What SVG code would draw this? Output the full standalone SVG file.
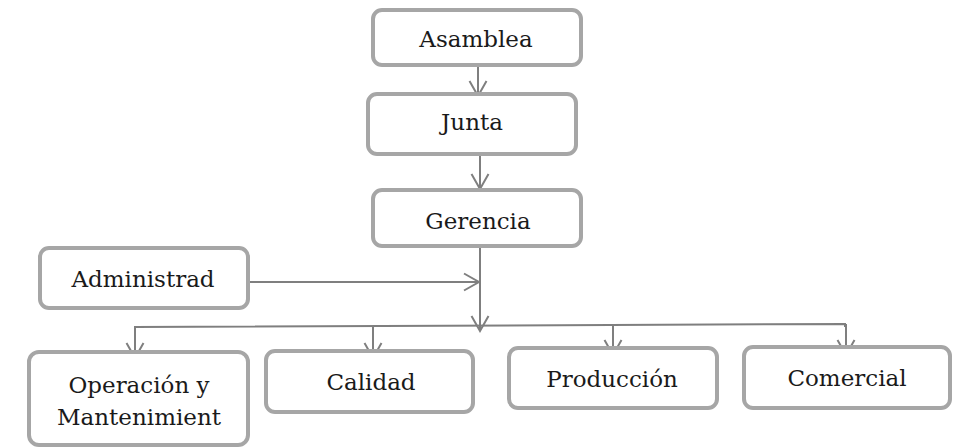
<svg xmlns="http://www.w3.org/2000/svg" width="953" height="448" viewBox="0 0 953 448">
<style>
.box{fill:#fff;stroke:#a6a6a6;stroke-width:4}
.lbl{font-family:"DejaVu Serif","Liberation Serif",serif;font-size:23px;fill:#1a1a1a;text-anchor:middle}
.ln{fill:none;stroke:#7f7f7f;stroke-width:2}
</style>
<defs>
<marker id="ah" viewBox="0 0 20 20" refX="18" refY="10" markerWidth="20" markerHeight="20" markerUnits="userSpaceOnUse" orient="auto">
<path d="M3 1.5 L18 10 L3 18.5" fill="none" stroke="#7f7f7f" stroke-width="2"/>
</marker>
</defs>
<rect width="953" height="448" fill="#fff"/>
<g id="connectors">
<line class="ln" x1="478" y1="65" x2="478" y2="96" marker-end="url(#ah)"/>
<line class="ln" x1="480" y1="155" x2="480" y2="189" marker-end="url(#ah)"/>
<line class="ln" x1="248" y1="282" x2="479" y2="282" marker-end="url(#ah)"/>
<line class="ln" x1="480" y1="247" x2="480" y2="331" marker-end="url(#ah)"/>
<polyline class="ln" points="135,358 135,327 845,324 845,327"/>
<line class="ln" x1="135" y1="327" x2="135" y2="358" marker-end="url(#ah)"/>
<line class="ln" x1="373" y1="326" x2="373" y2="358" marker-end="url(#ah)"/>
<line class="ln" x1="613" y1="325" x2="613" y2="355" marker-end="url(#ah)"/>
<line class="ln" x1="846" y1="324" x2="846" y2="355" marker-end="url(#ah)"/>
</g>
<g id="asamblea"><rect class="box" x="373" y="10" width="208" height="55" rx="9"/><text class="lbl" x="476" y="47">Asamblea</text></g>
<g id="junta"><rect class="box" x="368" y="94" width="208" height="60" rx="9"/><text class="lbl" x="472" y="130">Junta</text></g>
<g id="gerencia"><rect class="box" x="373" y="190" width="208" height="56" rx="9"/><text class="lbl" x="478" y="229">Gerencia</text></g>
<g id="administrad"><rect class="box" x="40" y="248" width="208" height="60" rx="9"/><text class="lbl" x="143" y="287">Administrad</text></g>
<g id="operacion"><rect class="box" x="29" y="352" width="219" height="93" rx="10"/><text class="lbl" x="139" y="393">Operación y</text><text class="lbl" x="139" y="425">Mantenimient</text></g>
<g id="calidad"><rect class="box" x="266" y="351" width="207" height="61" rx="9"/><text class="lbl" x="371" y="390">Calidad</text></g>
<g id="produccion"><rect class="box" x="509" y="348" width="208" height="60" rx="9"/><text class="lbl" x="612" y="387">Producción</text></g>
<g id="comercial"><rect class="box" x="744" y="347" width="206" height="61" rx="9"/><text class="lbl" x="847" y="386">Comercial</text></g>
</svg>
